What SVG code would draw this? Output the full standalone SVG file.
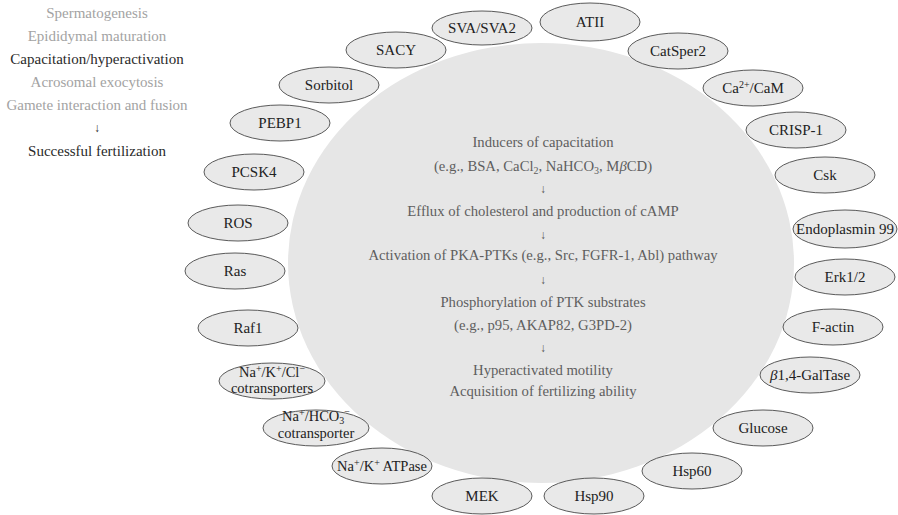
<svg xmlns="http://www.w3.org/2000/svg" width="898" height="515" viewBox="0 0 898 515">
<style>
text{font-family:"Liberation Serif","Times New Roman",serif;}
.bg{fill:#e6e6e6;stroke:none;}
.n{fill:#e9e9e9;stroke:#5a5a5a;stroke-width:1;}
.lbl{font-size:15px;fill:#222;text-anchor:middle;}
.c{font-size:14.7px;fill:#5e5e5e;text-anchor:middle;}
.arr{font-size:12px;fill:#555555;text-anchor:middle;}
.l1{font-size:15px;fill:#a3a3a3;text-anchor:middle;}
.l2{font-size:15px;fill:#2a2a2a;text-anchor:middle;}
.sup{font-size:10px;}
</style>
<rect width="898" height="515" fill="#ffffff"/>
<g id="stages">
<text class="l1" x="97" y="18">Spermatogenesis</text>
<text class="l1" x="97" y="41">Epididymal maturation</text>
<text class="l2" x="97" y="64">Capacitation/hyperactivation</text>
<text class="l1" x="97" y="87">Acrosomal exocytosis</text>
<text class="l1" x="97" y="110">Gamete interaction and fusion</text>
<text class="arr" x="97" y="132" style="fill:#2a2a2a">↓</text>
<text class="l2" x="97" y="156">Successful fertilization</text>
</g>
<g id="center">
<ellipse class="bg" cx="541" cy="263" rx="253" ry="220"/>
<text class="c" x="543" y="147">Inducers of capacitation</text>
<text class="c" x="543" y="171">(e.g., BSA, CaCl<tspan class="sup" dy="3">2</tspan><tspan dy="-3">, NaHCO</tspan><tspan class="sup" dy="3">3</tspan><tspan dy="-3">, M</tspan><tspan font-style="italic">β</tspan>CD)</text>
<text class="arr" x="543" y="193">↓</text>
<text class="c" x="543" y="216">Efflux of cholesterol and production of cAMP</text>
<text class="arr" x="543" y="239">↓</text>
<text class="c" x="543" y="260">Activation of PKA-PTKs (e.g., Src, FGFR-1, Abl) pathway</text>
<text class="arr" x="543" y="284">↓</text>
<text class="c" x="543" y="307">Phosphorylation of PTK substrates</text>
<text class="c" x="543" y="330">(e.g., p95, AKAP82, G3PD-2)</text>
<text class="arr" x="543" y="352">↓</text>
<text class="c" x="543" y="375">Hyperactivated motility</text>
<text class="c" x="543" y="396">Acquisition of fertilizing ability</text>
</g>
<g id="connectors"></g>
<g id="n-sacy"><ellipse class="n" cx="396" cy="50" rx="50" ry="18"/><text class="lbl" x="396" y="55">SACY</text></g>
<g id="n-sva"><ellipse class="n" cx="482" cy="28" rx="50" ry="17"/><text class="lbl" x="482" y="33">SVA/SVA2</text></g>
<g id="n-atii"><ellipse class="n" cx="590" cy="22" rx="50" ry="19"/><text class="lbl" x="590" y="27">ATII</text></g>
<g id="n-catsper2"><ellipse class="n" cx="678" cy="51" rx="50" ry="18"/><text class="lbl" x="678" y="56">CatSper2</text></g>
<g id="n-cacam"><ellipse class="n" cx="753" cy="88" rx="50" ry="18"/><text class="lbl" x="753" y="93">Ca<tspan class="sup" dy="-5">2+</tspan><tspan dy="5">/CaM</tspan></text></g>
<g id="n-crisp1"><ellipse class="n" cx="796" cy="130" rx="50" ry="18"/><text class="lbl" x="796" y="135">CRISP-1</text></g>
<g id="n-csk"><ellipse class="n" cx="825" cy="175" rx="50" ry="18"/><text class="lbl" x="825" y="180">Csk</text></g>
<g id="n-endo"><ellipse class="n" cx="845" cy="229" rx="52" ry="19"/><text class="lbl" x="845" y="234">Endoplasmin 99</text></g>
<g id="n-erk"><ellipse class="n" cx="845" cy="277" rx="50" ry="18"/><text class="lbl" x="845" y="282">Erk1/2</text></g>
<g id="n-factin"><ellipse class="n" cx="833" cy="327" rx="50" ry="18"/><text class="lbl" x="833" y="332">F-actin</text></g>
<g id="n-galtase"><ellipse class="n" cx="810" cy="375" rx="50" ry="18"/><text class="lbl" x="810" y="380"><tspan font-style="italic">β</tspan>1,4-GalTase</text></g>
<g id="n-glucose"><ellipse class="n" cx="763" cy="428" rx="50" ry="18"/><text class="lbl" x="763" y="433">Glucose</text></g>
<g id="n-hsp60"><ellipse class="n" cx="692" cy="471" rx="50" ry="18"/><text class="lbl" x="692" y="476">Hsp60</text></g>
<g id="n-hsp90"><ellipse class="n" cx="594" cy="496" rx="50" ry="18"/><text class="lbl" x="594" y="501">Hsp90</text></g>
<g id="n-mek"><ellipse class="n" cx="482" cy="496" rx="50" ry="18"/><text class="lbl" x="482" y="501">MEK</text></g>
<g id="n-atpase"><ellipse class="n" cx="382" cy="466" rx="50" ry="18"/><text class="lbl" x="382" y="471" style="font-size:14.5px">Na<tspan class="sup" dy="-5">+</tspan><tspan dy="5">/K</tspan><tspan class="sup" dy="-5">+</tspan><tspan dy="5"> ATPase</tspan></text></g>
<g id="n-nahco3"><ellipse class="n" cx="316" cy="428" rx="53" ry="18"/><text class="lbl" x="316" y="421" style="font-size:14.5px">Na<tspan class="sup" dy="-5">+</tspan><tspan dy="5">/HCO</tspan><tspan class="sup" dy="3">3</tspan><tspan class="sup" dy="-9">−</tspan></text><text class="lbl" x="316" y="438" style="font-size:14.5px">cotransporter</text></g>
<g id="n-nakcl"><ellipse class="n" cx="272" cy="381" rx="53" ry="18"/><text class="lbl" x="272" y="377" style="font-size:14.5px">Na<tspan class="sup" dy="-5">+</tspan><tspan dy="5">/K</tspan><tspan class="sup" dy="-5">+</tspan><tspan dy="5">/Cl</tspan><tspan class="sup" dy="-5">−</tspan></text><text class="lbl" x="272" y="393" style="font-size:14.5px">cotransporters</text></g>
<g id="n-raf1"><ellipse class="n" cx="248" cy="328" rx="50" ry="18"/><text class="lbl" x="248" y="333">Raf1</text></g>
<g id="n-ras"><ellipse class="n" cx="235" cy="271" rx="50" ry="18"/><text class="lbl" x="235" y="276">Ras</text></g>
<g id="n-ros"><ellipse class="n" cx="238" cy="223" rx="50" ry="18"/><text class="lbl" x="238" y="228">ROS</text></g>
<g id="n-pcsk4"><ellipse class="n" cx="254" cy="172" rx="50" ry="18"/><text class="lbl" x="254" y="177">PCSK4</text></g>
<g id="n-pebp1"><ellipse class="n" cx="280" cy="123" rx="50" ry="18"/><text class="lbl" x="280" y="128">PEBP1</text></g>
<g id="n-sorbitol"><ellipse class="n" cx="329" cy="85" rx="50" ry="18"/><text class="lbl" x="329" y="90">Sorbitol</text></g>
</svg>
